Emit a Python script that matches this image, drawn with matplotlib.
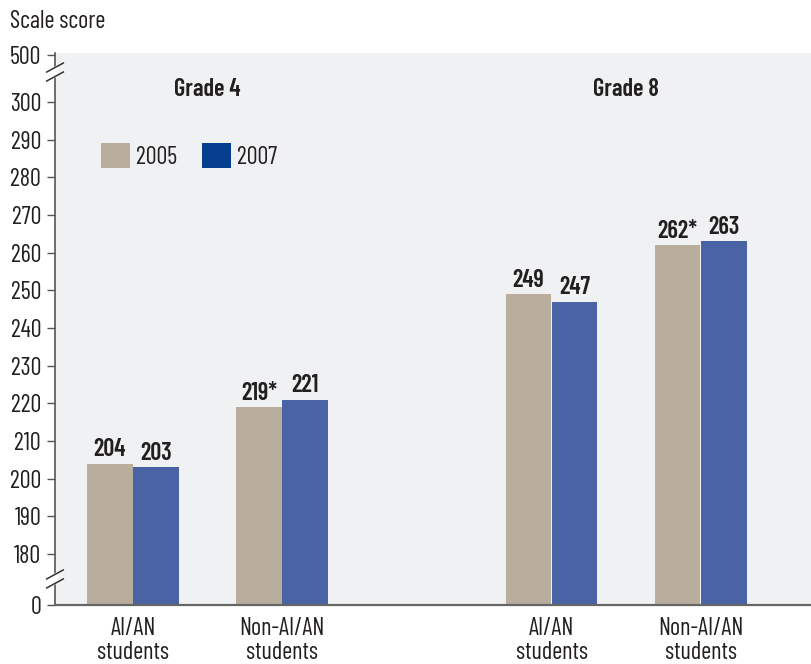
import numpy as np
import matplotlib
matplotlib.use("Agg")
import matplotlib.pyplot as plt
import matplotlib.transforms as mtransforms
from matplotlib.patches import Patch, Polygon

plt.rcParams['font.family'] = ['Barlow Condensed', 'DejaVu Sans']

groups = ["AI/AN\nstudents", "Non-AI/AN\nstudents", "AI/AN\nstudents", "Non-AI/AN\nstudents"]
grades = ["Grade 4", "Grade 8"]
years = ["2005", "2007"]
scores_2005 = [204, 219, 249, 262]
scores_2007 = [203, 221, 247, 263]
labels_2005 = ["204", "219*", "249", "262*"]
labels_2007 = ["203", "221", "247", "263"]
yticks = [0, 180, 190, 200, 210, 220, 230, 240, 250, 260, 270, 280, 290, 300, 500]

# broken axis: 0..180 and 300..500 squeezed
knots_v = np.array([-1000.0, 0.0, 180.0, 300.0, 500.0, 2500.0])
knots_f = np.array([166.46 - 1000 * 13.54 / 180, 166.46, 180.0, 300.0, 312.48,
                    312.48 + 2000 * 12.48 / 200])

def fwd(v):
    return np.interp(v, knots_v, knots_f)

def inv(f):
    return np.interp(f, knots_f, knots_v)

c2005 = '#b9ae9e'
c2007 = '#4a63a5'
c2007_leg = '#063f8e'
txt = '#231f20'
bg = '#f0f1f3'

fig = plt.figure(figsize=(8.12, 6.64), dpi=100)
ax = fig.add_axes([55 / 812, 59 / 664, 757 / 812, 552 / 664])
ax.set_facecolor(bg)
ax.set_yscale('function', functions=(fwd, inv))

x = np.array([0, 1, 2.81, 3.81])
w = 0.305
ax.bar(x - 0.155, scores_2005, w, color=c2005, zorder=2)
ax.bar(x + 0.155, scores_2007, w, color=c2007, zorder=2)

for xi, v, s in zip(x - 0.155, scores_2005, labels_2005):
    ax.annotate(s, (xi, v), xytext=(0, 1.5), textcoords='offset points',
                ha='center', va='bottom', fontsize=17.5, fontweight='semibold', color=txt)
for xi, v, s in zip(x + 0.155, scores_2007, labels_2007):
    ax.annotate(s, (xi, v), xytext=(0, 1.5), textcoords='offset points',
                ha='center', va='bottom', fontsize=17.5, fontweight='semibold', color=txt)

ax.set_ylim(0, 508)
ax.set_xlim(-0.523, 4.557)
ax.set_yticks(yticks)
ax.set_yticklabels([str(t) for t in yticks])
ax.set_xticks(x)
ax.set_xticklabels(groups, linespacing=1.08)
ax.tick_params(axis='y', length=6, width=1, color='#555555', labelsize=17.5,
               labelcolor=txt, pad=4)
ax.tick_params(axis='x', length=0, labelsize=17.5, labelcolor=txt, pad=8.5)

for s in ['top', 'right']:
    ax.spines[s].set_visible(False)
ax.spines['left'].set_color('#555555')
ax.spines['left'].set_linewidth(1.2)
ax.spines['bottom'].set_color('#666666')
ax.spines['bottom'].set_linewidth(1.6)

# axis break marks
for yb in [427, 92]:
    tr = fig.dpi_scale_trans + mtransforms.ScaledTranslation(0, yb, ax.get_yaxis_transform())
    gap = Polygon([(-0.03, -0.075), (0.03, -0.04), (0.03, 0.075), (-0.03, 0.04)],
                  closed=True, facecolor='white', edgecolor='none',
                  transform=tr, clip_on=False, zorder=5)
    ax.add_patch(gap)
    for dy in [-0.045, 0.045]:
        ax.plot([-0.083, 0.083], [dy - 0.045, dy + 0.045], color='#333333', lw=1.1,
                transform=tr, clip_on=False, zorder=6)

for gx, g in zip([0.5, 3.31], grades):
    ax.text(gx, (605 - 89.5) / 552, g, transform=ax.get_xaxis_transform(),
            ha='center', va='center', fontsize=17.5, fontweight='semibold', color=txt)

handles = [Patch(facecolor=c2005, label=years[0]), Patch(facecolor=c2007_leg, label=years[1])]
ax.legend(handles=handles, loc='upper left', bbox_to_anchor=(46 / 757, (605 - 143) / 552),
          ncol=2, frameon=False, fontsize=17.5, handlelength=1.2, handleheight=1.2,
          handletextpad=0.25, columnspacing=1.0, borderpad=0, borderaxespad=0,
          labelcolor=txt)

fig.text(10 / 812, 1 - 22 / 664, "Scale score", ha='left', va='center', fontsize=17.5, color=txt)

fig.savefig("out.png", dpi=100)
